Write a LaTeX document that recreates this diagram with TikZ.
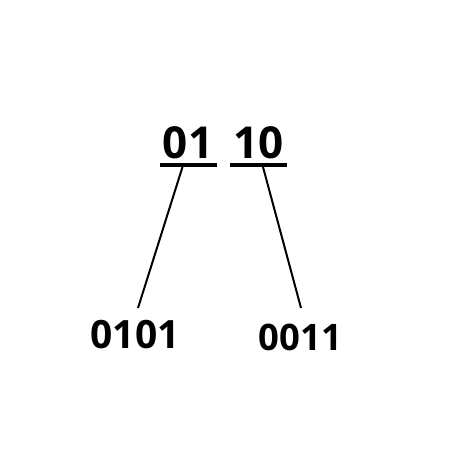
\documentclass[tikz,border=0pt]{standalone}
\usepackage{fontspec}
\setmainfont{Open Sans}[BoldFont={* Bold}]
\begin{document}
\begin{tikzpicture}[x=1pt,y=-1pt,
  bigdig/.style={font=\fontsize{44}{44}\selectfont\bfseries, inner sep=0pt, anchor=base},
  smalldig/.style={font=\fontsize{39}{39}\selectfont\bfseries, inner sep=0pt, anchor=base},
  uline/.style={line width=4pt},
  conn/.style={line width=2pt}]
\useasboundingbox (0,0) rectangle (474,474);
\node[bigdig] (a) at (188,158.5) {01};
\node[bigdig] (b) at (258.5,158.5) {10};
\node[smalldig] (c) at (135,348) {0101};
\node[smalldig,font=\fontsize{36.5}{36.5}\selectfont\bfseries] (d) at (300.5,350) {0011};
\coordinate (a1) at (160,165);
\coordinate (a2) at (217,165);
\coordinate (b1) at (230,165);
\coordinate (b2) at (287,165);
\draw[uline] (a1) -- (a2);
\draw[uline] (b1) -- (b2);
\coordinate (as) at (182.5,167);
\coordinate (bs) at (263,167);
\coordinate (ce) at (138,308);
\coordinate (de) at (301,308);
\draw[conn] (as) -- (ce);
\draw[conn] (bs) -- (de);
\end{tikzpicture}
\end{document}
